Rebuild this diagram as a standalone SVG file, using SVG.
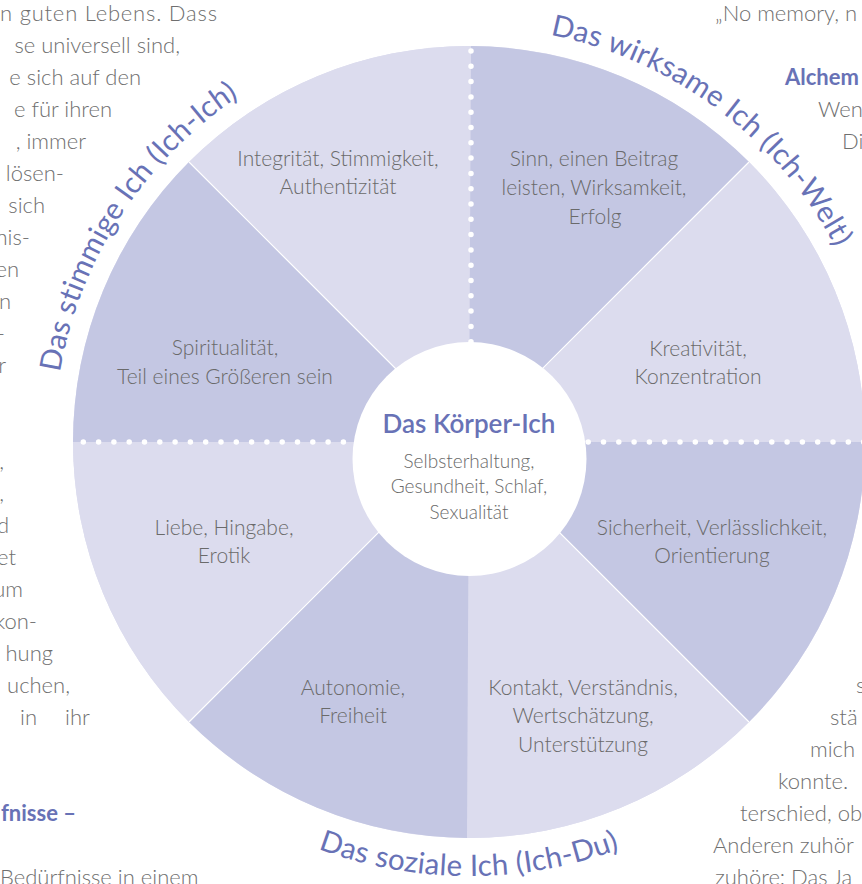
<svg xmlns="http://www.w3.org/2000/svg" width="862" height="884" viewBox="0 0 862 884">
  <style>
    .body { font-family: Lato, "Open Sans", "Liberation Sans", sans-serif; font-size: 22px; font-weight: 300; fill: #6f6f6f; }
    .body-end { text-anchor: end; }
    .head { font-family: Lato, "Open Sans", "Liberation Sans", sans-serif; font-size: 22px; font-weight: 700; fill: #6872b6; }
    .lbl { font-family: Lato, "Open Sans", "Liberation Sans", sans-serif; font-size: 21px; font-weight: 300; fill: #6a6a6a; text-anchor: middle; }
    .sub { font-family: Lato, "Open Sans", "Liberation Sans", sans-serif; font-size: 19px; font-weight: 300; fill: #6a6a6a; text-anchor: middle; }
    .title { font-family: Lato, "Open Sans", "Liberation Sans", sans-serif; font-size: 26px; font-weight: 600; fill: #6872b6; text-anchor: middle; }
    .arc { font-family: Lato, "Open Sans", "Liberation Sans", sans-serif; font-size: 29.5px; fill: #6872b6; text-anchor: middle; letter-spacing: 0.3px; }
    .light { fill: #dcdcee; }
    .dark { fill: #c4c7e3; }
    .sep { stroke: #ffffff; stroke-width: 1.2; fill: none; }
    .dots { stroke: #ffffff; stroke-width: 5.5; stroke-linecap: round; fill: none; stroke-dasharray: 0 15.3; }
  </style>
  <defs>
    <!-- rim paths for the quadrant captions (centre 469,442) -->
    <path id="arc-stimmig" d="M63.1,528.3 A415,415 0 0 1 382.7,36.1"/>
    <path id="arc-wirksam" d="M409.1,31.3 A415,415 0 0 1 879.7,382.1"/>
    <path id="arc-sozial" d="M162.1,748.9 A434,434 0 0 0 775.9,748.9"/>
  </defs>

  <rect width="862" height="884" fill="#ffffff"/>

  <!-- surrounding page text, left column -->
  <g id="page-text-left">
    <text class="body" x="0" y="21" textLength="217" lengthAdjust="spacing">n guten Lebens. Dass</text>
    <text class="body body-end" x="180" y="53">se universell sind,</text>
    <text class="body body-end" x="141" y="85">e sich auf den</text>
    <text class="body body-end" x="112" y="117">e  für  ihren</text>
    <text class="body body-end" x="86" y="149">,  immer</text>
    <text class="body body-end" x="64" y="181">lösen-</text>
    <text class="body body-end" x="45" y="213">sich</text>
    <text class="body body-end" x="30" y="245">nis-</text>
    <text class="body body-end" x="19" y="277">en</text>
    <text class="body body-end" x="11" y="309">n</text>
    <text class="body body-end" x="5" y="341">-</text>
    <text class="body body-end" x="6" y="373">r</text>
    <text class="body body-end" x="4" y="469">,</text>
    <text class="body body-end" x="4" y="501">,</text>
    <text class="body body-end" x="9" y="533">d</text>
    <text class="body body-end" x="16" y="565">et</text>
    <text class="body body-end" x="23" y="597">um</text>
    <text class="body body-end" x="37" y="629">kon-</text>
    <text class="body body-end" x="53" y="661">hung</text>
    <text class="body body-end" x="70" y="693">uchen,</text>
    <text class="body" x="20" y="725">in</text>
    <text class="body" x="65" y="725">ihr</text>
    <text class="head body-end" x="76" y="821">fnisse –</text>
    <text class="body" x="0" y="885">Bedürfnisse in einem</text>
  </g>

  <!-- surrounding page text, right column -->
  <g id="page-text-right">
    <text class="body" x="715" y="21">„No memory, n</text>
    <text class="head" x="785" y="85">Alchem</text>
    <text class="body" x="818" y="117">Wen</text>
    <text class="body" x="842" y="149">Di</text>
    <text class="body" x="856" y="693">s</text>
    <text class="body" x="830" y="725">stä</text>
    <text class="body" x="810" y="757">mich</text>
    <text class="body" x="778" y="789">konnte.</text>
    <text class="body" x="740" y="821">terschied, ob</text>
    <text class="body" x="713" y="853">Anderen zuhör</text>
    <text class="body" x="715" y="885">zuhöre: Das Ja</text>
  </g>

  <!-- wheel base -->
  <circle cx="469" cy="442" r="396" class="light"/>

  <g id="sector-integritaet">
    <path class="light" d="M469,442 L189,162 A396,396 0 0 1 471,46 Z"/>
    <text class="lbl" x="338" y="166">Integrität, Stimmigkeit,</text>
    <text class="lbl" x="338" y="194">Authentizität</text>
  </g>
  <g id="sector-sinn">
    <path class="dark" d="M469,442 L471,46 A396,396 0 0 1 749,162 Z"/>
    <text class="lbl" x="594" y="166">Sinn, einen Beitrag</text>
    <text class="lbl" x="594" y="195">leisten, Wirksamkeit,</text>
    <text class="lbl" x="595" y="224">Erfolg</text>
  </g>
  <g id="sector-kreativitaet">
    <path class="light" d="M469,442 L749,162 A396,396 0 0 1 865,442 Z"/>
    <text class="lbl" x="698" y="356">Kreativität,</text>
    <text class="lbl" x="698" y="384">Konzentration</text>
  </g>
  <g id="sector-sicherheit">
    <path class="dark" d="M469,442 L865,442 A396,396 0 0 1 749,722 Z"/>
    <text class="lbl" x="712" y="535">Sicherheit, Verlässlichkeit,</text>
    <text class="lbl" x="712" y="563">Orientierung</text>
  </g>
  <g id="sector-kontakt">
    <path class="light" d="M469,442 L749,722 A396,396 0 0 1 467,838 Z"/>
    <text class="lbl" x="583" y="695">Kontakt, Verständnis,</text>
    <text class="lbl" x="583" y="723">Wertschätzung,</text>
    <text class="lbl" x="583" y="752">Unterstützung</text>
  </g>
  <g id="sector-autonomie">
    <path class="dark" d="M469,442 L467,838 A396,396 0 0 1 189,722 Z"/>
    <text class="lbl" x="353" y="695">Autonomie,</text>
    <text class="lbl" x="353" y="723">Freiheit</text>
  </g>
  <g id="sector-liebe">
    <path class="light" d="M469,442 L189,722 A396,396 0 0 1 73,442 Z"/>
    <text class="lbl" x="224" y="535">Liebe, Hingabe,</text>
    <text class="lbl" x="224" y="563">Erotik</text>
  </g>
  <g id="sector-spiritualitaet">
    <path class="dark" d="M469,442 L73,442 A396,396 0 0 1 189,162 Z"/>
    <text class="lbl" x="225" y="355">Spiritualität,</text>
    <text class="lbl" x="225" y="384">Teil eines Größeren sein</text>
  </g>

  <!-- dividers between the sectors -->
  <g id="dividers">
    <path class="sep" d="M469,442 L189,162 M469,442 L749,162 M469,442 L189,722 M469,442 L749,722"/>
    <path class="dots" d="M83.3,442 H872"/>
    <path class="dots" d="M471,51 V345"/>
  </g>

  <g id="koerper-ich">
    <circle cx="469.5" cy="459" r="117" fill="#ffffff"/>
    <text class="title" x="469" y="433">Das Körper-Ich</text>
    <text class="sub" x="469" y="468">Selbsterhaltung,</text>
    <text class="sub" x="469" y="493">Gesundheit, Schlaf,</text>
    <text class="sub" x="469" y="519">Sexualität</text>
  </g>

  <!-- quadrant captions along the rim -->
  <g id="caption-stimmig">
    <text class="arc"><textPath href="#arc-stimmig" startOffset="50%">Das stimmige Ich (Ich-Ich)</textPath></text>
  </g>
  <g id="caption-wirksam">
    <text class="arc"><textPath href="#arc-wirksam" startOffset="50%">Das wirksame Ich (Ich-Welt)</textPath></text>
  </g>
  <g id="caption-sozial">
    <text class="arc"><textPath href="#arc-sozial" startOffset="50%">Das soziale Ich (Ich-Du)</textPath></text>
  </g>
</svg>
